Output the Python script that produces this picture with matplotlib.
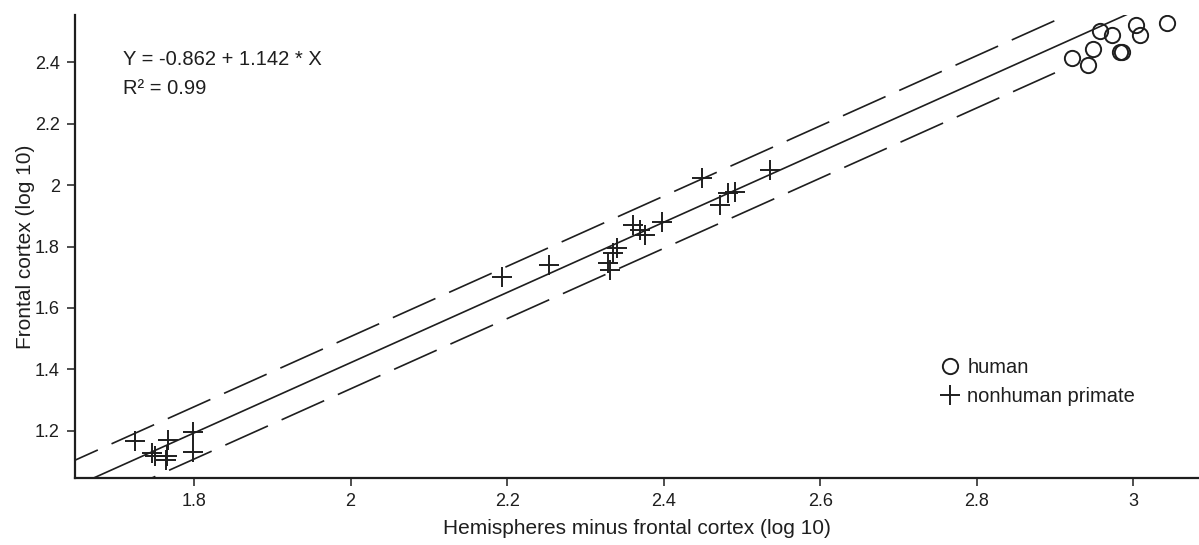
import matplotlib
matplotlib.use('Agg')
import matplotlib.pyplot as plt
import numpy as np

plt.rcParams['font.family'] = ['Liberation Sans', 'DejaVu Sans']

# regression line printed on the chart: Y = a + b * X
intercept = -0.862
slope = 1.142
r_squared = 0.99
band_half_width = 0.085      # dashed prediction band around the fit
fit_x_end = 3.06
band_x_end = 2.90

# human (open circles)
human_x = [2.922, 2.942, 2.949, 2.958, 2.973, 2.983, 2.985, 3.003, 3.008, 3.043]
human_y = [2.412, 2.390, 2.441, 2.502, 2.488, 2.434, 2.432, 2.520, 2.488, 2.526]

# nonhuman primates (plus signs)
primate_x = [1.725, 1.746, 1.750, 1.765, 1.767, 1.764, 1.799, 1.799,
             2.193, 2.253, 2.329, 2.332, 2.335, 2.341, 2.361, 2.370, 2.376, 2.398,
             2.449, 2.472, 2.482, 2.491, 2.536]
primate_y = [1.168, 1.128, 1.119, 1.119, 1.171, 1.106, 1.198, 1.133,
             1.702, 1.740, 1.746, 1.724, 1.779, 1.795, 1.870, 1.854, 1.837, 1.881,
             2.022, 1.935, 1.974, 1.977, 2.049]

x_ticks = [1.8, 2.0, 2.2, 2.4, 2.6, 2.8, 3.0]
x_tick_labels = ['1.8', '2', '2.2', '2.4', '2.6', '2.8', '3']
y_ticks = [1.2, 1.4, 1.6, 1.8, 2.0, 2.2, 2.4]
y_tick_labels = ['1.2', '1.4', '1.6', '1.8', '2', '2.2', '2.4']

ink = '#1e1e1e'

fig = plt.figure(figsize=(11.99, 5.45), dpi=100)
ax = fig.add_axes([0.0626, 0.1229, 0.9374, 0.8496])

x_lo, x_hi = 1.648, 3.084
y_lo, y_hi = 1.047, 2.553

# fit line and prediction band
xs = np.array([1.55, fit_x_end])
ax.plot(xs, intercept + slope * xs, color=ink, lw=1.2)
xb = np.array([1.55, band_x_end])
for sign in (1, -1):
    ax.plot(xb, intercept + slope * xb + sign * band_half_width, color=ink, lw=1.2,
            dashes=(28, 9))

ax.plot(human_x, human_y, linestyle='none', marker='o', markersize=11,
        markerfacecolor='none', markeredgecolor=ink, markeredgewidth=1.4, label='human')
ax.plot(primate_x, primate_y, linestyle='none', marker='+', markersize=14,
        color=ink, markeredgewidth=1.4, label='nonhuman primate')

ax.set_xlim(x_lo, x_hi)
ax.set_ylim(y_lo, y_hi)
ax.set_xticks(x_ticks)
ax.set_xticklabels(x_tick_labels)
ax.set_yticks(y_ticks)
ax.set_yticklabels(y_tick_labels)
ax.tick_params(direction='out', length=6, width=1.1, colors=ink, labelsize=13, pad=5)

for side in ('top', 'right'):
    ax.spines[side].set_visible(False)
for side in ('left', 'bottom'):
    ax.spines[side].set_linewidth(1.6)
    ax.spines[side].set_color(ink)

ax.set_xlabel('Hemispheres minus frontal cortex (log 10)', fontsize=15, color=ink, labelpad=6)
ax.set_ylabel('Frontal cortex (log 10)', fontsize=15, color=ink, labelpad=0)

fig.text(123 / 1199, 1 - 59 / 545, 'Y = -0.862 + 1.142 * X', fontsize=14.5, color=ink,
         ha='left', va='center')
fig.text(123 / 1199, 1 - 88 / 545, 'R\u00b2 = %.2f' % r_squared, fontsize=14.5, color=ink,
         ha='left', va='center')

ax.legend(loc='upper left', bbox_to_anchor=(932 / 1199, 1 - 348 / 545),
          bbox_transform=fig.transFigure, frameon=False, fontsize=14.5,
          handlelength=0.8, handletextpad=0.45, labelspacing=0.5, borderpad=0,
          labelcolor=ink)

fig.savefig('out.png', dpi=100)
